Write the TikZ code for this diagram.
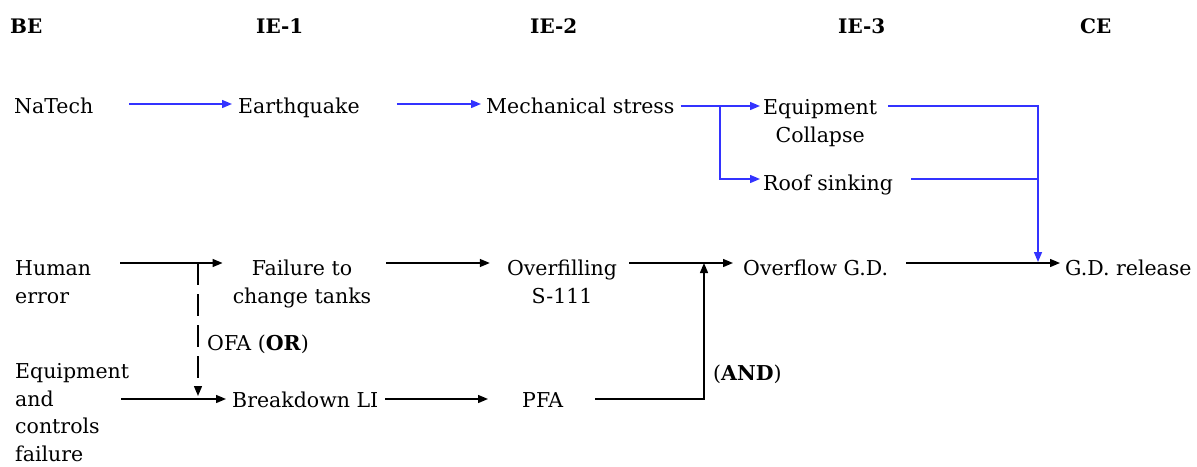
\documentclass[tikz,border=0pt]{standalone}
\usepackage{fontspec}
\setmainfont{DejaVu Serif}
\usetikzlibrary{arrows.meta}
\definecolor{flowblue}{RGB}{51,51,255}
\begin{document}
\begin{tikzpicture}[x=1pt,y=-1pt,
  txt/.style={inner sep=0pt, font=\fontsize{20.5}{28}\selectfont},
  hdr/.style={inner sep=0pt, font=\fontsize{20}{28}\selectfont\bfseries},
  tip/.style={-{Triangle[length=10pt,width=8pt]}},
  blk/.style={line width=1.4pt, draw=black},
  blu/.style={line width=1.4pt, draw=flowblue},
  dsh/.style={line width=1.4pt, draw=black, dash pattern=on 22pt off 9pt}]
\useasboundingbox (0,0) rectangle (1197,466);

% headers
\node[hdr, anchor=base west] (hBE) at (10,33) {BE};
\node[hdr, anchor=base west] (hIE1) at (256,33) {IE-1};
\node[hdr, anchor=base west] (hIE2) at (530,33) {IE-2};
\node[hdr, anchor=base west] (hIE3) at (838,33) {IE-3};
\node[hdr, anchor=base west] (hCE) at (1080,33) {CE};

% row 1
\node[txt, anchor=base west] (natech) at (14,113) {NaTech};
\node[txt, anchor=base west] (quake) at (238,113) {Earthquake};
\node[txt, anchor=base west] (mech) at (486,113) {Mechanical stress};
\node[txt, anchor=base west, align=center] (equip) at (763,142) {Equipment\\Collapse};
\node[txt, anchor=base west] (roof) at (763,190) {Roof sinking};

% row 2
\node[txt, anchor=base west, align=left] (human) at (15,303) {Human\\error};
\node[txt, anchor=base, align=center] (fail) at (302,303) {Failure to\\change tanks};
\node[txt, anchor=base, align=center] (overfill) at (562,303) {Overfilling\\S-111};
\node[txt, anchor=base west] (ovgd) at (743,275) {Overflow G.D.};
\node[txt, anchor=base west] (gdr) at (1065,275) {G.D. release};

% row 3
\node[txt, anchor=base west, align=left, font=\fontsize{20.5}{27.5}\selectfont] (equipc) at (15,461) {Equipment\\and\\controls\\failure};
\node[txt, anchor=base west] (breakli) at (232,407) {Breakdown LI};
\node[txt, anchor=base west] (pfa) at (522,407) {PFA};

% labels
\node[txt, anchor=base west] (ofa) at (207,350) {OFA (\textbf{OR})};
\node[txt, anchor=base west] (andl) at (713,380) {(\textbf{AND})};

% junction coordinates
\coordinate (jMech) at (720,106);
\coordinate (jRight) at (1038,263);
\coordinate (jOr) at (198,263);
\coordinate (jOrEnd) at (198,396);
\coordinate (jAnd) at (704,263);
\coordinate (jAndLow) at (704,399);

% blue connectors
\draw[blu, tip] (natech.east |- 0,104) ++(36,0) -- ([xshift=-6pt]quake.west |- 0,104);
\draw[blu, tip] (quake.east |- 0,104) ++(37,0) -- ([xshift=-5pt]mech.west |- 0,104);
\draw[blu] (mech.east |- 0,106) ++(6,0) -- (jMech);
\draw[blu, tip] (jMech) -- ([xshift=-3pt]equip.west |- jMech);
\draw[blu, tip] (jMech) -- (jMech |- 0,179) -- ([xshift=-3pt]roof.west |- 0,179);
\draw[blu, tip] (equip.east |- jMech) ++(11,0) -- (jRight |- jMech) -- ([yshift=1pt]jRight);
\draw[blu] (roof.east |- 0,179) ++(18,0) -- (jRight |- 0,179);

% black connectors
\draw[blk, tip] (human.east |- jOr) ++(29,0) -- ([xshift=-10pt]fail.west |- jOr);
\draw[blk, tip] (fail.east |- jOr) ++(15,0) -- ([xshift=-17pt]overfill.west |- jOr);
\draw[blk, tip] (overfill.east |- jOr) ++(12,0) -- ([xshift=-10pt]ovgd.west |- jOr);
\draw[blk, tip] (ovgd.east |- jOr) ++(18,0) -- ([xshift=-5pt]gdr.west |- jOr);
\draw[dsh, tip] (jOr) -- (jOrEnd);
\draw[blk, tip] (121,399) -- ([xshift=-6pt]breakli.west |- jAndLow);
\draw[blk, tip] (breakli.east |- jAndLow) ++(7,0) -- ([xshift=-34pt]pfa.west |- jAndLow);
\draw[blk, tip] (pfa.east |- jAndLow) ++(32,0) -- (jAndLow) -- (jAnd);
\end{tikzpicture}
\end{document}
